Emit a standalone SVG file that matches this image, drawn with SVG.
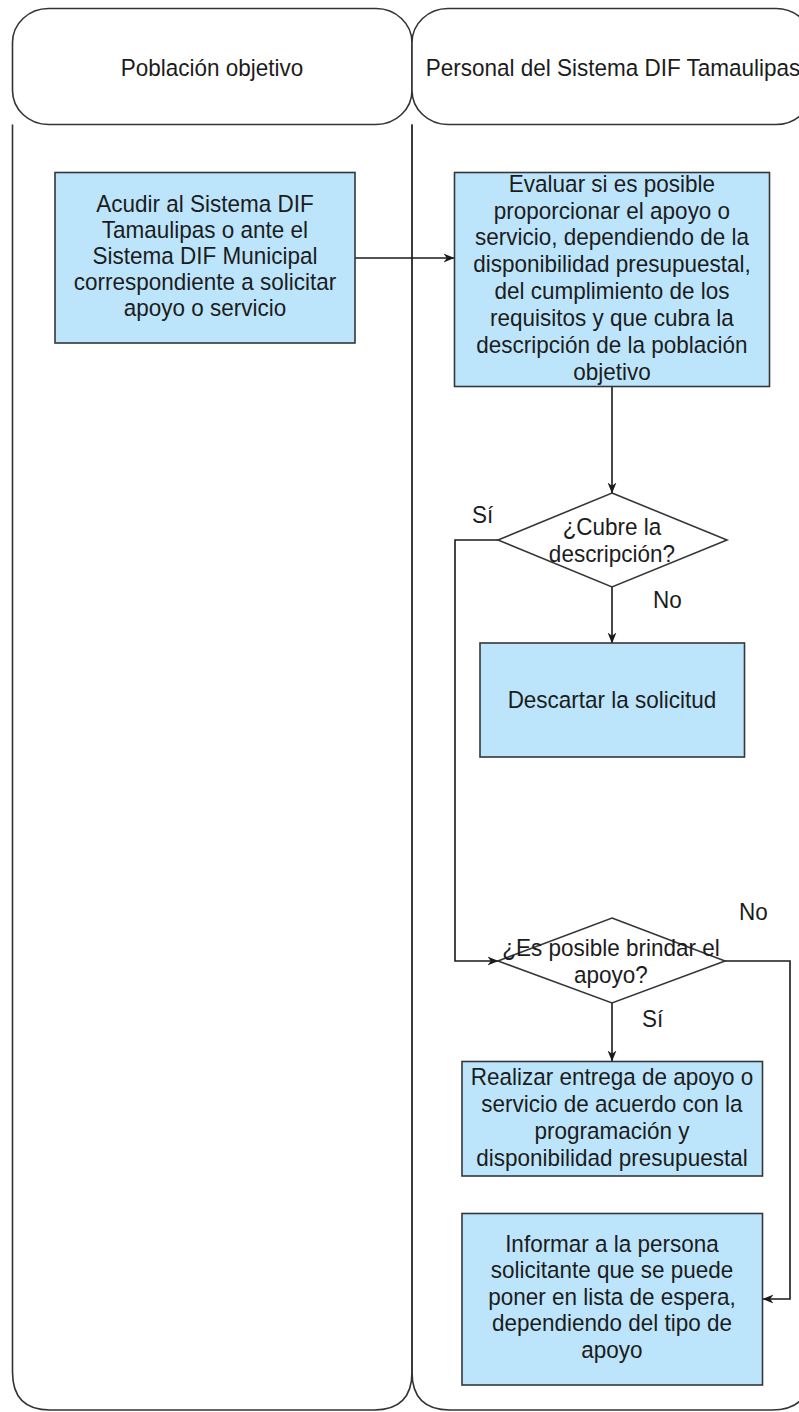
<svg xmlns="http://www.w3.org/2000/svg" width="799" height="1412" viewBox="0 0 799 1412">
  <style>
    .lane { fill: none; stroke: #333333; stroke-width: 1.6; }
    .hdr { fill: #ffffff; stroke: #333333; stroke-width: 1.6; }
    .box { fill: #bce5fb; stroke: #33363a; stroke-width: 1.6; }
    .dia { fill: #ffffff; stroke: #33363a; stroke-width: 1.6; }
    .t { font-family: "Liberation Sans", Arial, sans-serif; font-size: 22.5px; fill: #1c1c1c; text-anchor: middle; }
    .lbl { font-family: "Liberation Sans", Arial, sans-serif; font-size: 22.5px; fill: #1c1c1c; }
    .edge { fill: none; stroke: #1a1a1a; stroke-width: 1.6; marker-end: url(#arr); }
  </style>
  <defs>
    <marker id="arr" viewBox="0 0 10 10" refX="9.5" refY="5" markerWidth="11" markerHeight="11" markerUnits="userSpaceOnUse" orient="auto">
      <path d="M0,1 L10,5 L0,9 L3,5 Z" fill="#1a1a1a"/>
    </marker>
  </defs>
  <rect width="799" height="1412" fill="#ffffff"/>

  <g id="lane-poblacion">
    <path class="lane" d="M12.5,124.5 V1372 Q12.5,1410 50,1410 H374 Q412,1410 412,1372 V124.5"/>
    <rect class="hdr" x="12.5" y="8.5" width="399.5" height="116" rx="36" ry="34"/>
    <g transform="scale(1,1.06)">
      <text class="t" x="212" y="71.7">Población objetivo</text>
    </g>
  </g>

  <g id="lane-personal">
    <path class="lane" d="M412,124.5 V1372 Q412,1410 450,1410 H772 Q810,1410 810,1372 V124.5"/>
    <rect class="hdr" x="412" y="8.5" width="400" height="116" rx="36" ry="34"/>
    <g transform="scale(1,1.06)">
      <text class="t" x="613" y="71.7">Personal del Sistema DIF Tamaulipas</text>
    </g>
  </g>

  <g id="connectors">
    <path class="edge" d="M355,258 H454"/>
    <path class="edge" d="M612,387 V493"/>
    <path class="edge" d="M612,587 V643"/>
    <path class="edge" d="M498,540 H455 V961 H498"/>
    <path class="edge" d="M612,1003 V1061"/>
    <path class="edge" d="M725,961 H790 V1299 H763"/>
  </g>

  <g id="node-acudir">
    <rect class="box" x="55" y="172.5" width="300" height="170.5"/>
    <g transform="scale(1,1.06)">
      <text class="t" x="205" y="200">Acudir al Sistema DIF</text>
      <text class="t" x="205" y="224.53">Tamaulipas o ante el</text>
      <text class="t" x="205" y="249.06">Sistema DIF Municipal</text>
      <text class="t" x="205" y="273.58">correspondiente a solicitar</text>
      <text class="t" x="205" y="298.11">apoyo o servicio</text>
    </g>
  </g>

  <g id="node-evaluar">
    <rect class="box" x="454.5" y="172.5" width="315" height="214"/>
    <g transform="scale(1,1.06)">
      <text class="t" x="612" y="181.13">Evaluar si es posible</text>
      <text class="t" x="612" y="206.6">proporcionar el apoyo o</text>
      <text class="t" x="612" y="231.6">servicio, dependiendo de la</text>
      <text class="t" x="612" y="256.6">disponibilidad presupuestal,</text>
      <text class="t" x="612" y="282.08">del cumplimiento de los</text>
      <text class="t" x="612" y="307.55">requisitos y que cubra la</text>
      <text class="t" x="612" y="333.02">descripción de la población</text>
      <text class="t" x="612" y="358.49">objetivo</text>
    </g>
  </g>

  <g id="node-cubre">
    <polygon class="dia" points="612,493 727,540 612,587 498,540"/>
    <g transform="scale(1,1.06)">
      <text class="t" x="612" y="504.72">¿Cubre la</text>
      <text class="t" x="612" y="530.19">descripción?</text>
    </g>
  </g>

  <g id="labels-cubre" transform="scale(1,1.06)">
    <text class="lbl" x="472" y="493.4">Sí</text>
    <text class="lbl" x="653" y="573.58">No</text>
  </g>

  <g id="node-descartar">
    <rect class="box" x="480" y="643" width="264.5" height="114"/>
    <g transform="scale(1,1.06)">
      <text class="t" x="612" y="667.92">Descartar la solicitud</text>
    </g>
  </g>

  <g id="node-posible">
    <polygon class="dia" points="612,918 725,961 612,1003 498,961"/>
    <g transform="scale(1,1.06)">
      <text class="t" x="611" y="902.36">¿Es posible brindar el</text>
      <text class="t" x="611" y="927.36">apoyo?</text>
    </g>
  </g>

  <g id="labels-posible" transform="scale(1,1.06)">
    <text class="lbl" x="739" y="867.92">No</text>
    <text class="lbl" x="642" y="968.87">Sí</text>
  </g>

  <g id="node-realizar">
    <rect class="box" x="462" y="1061.5" width="300.5" height="114.5"/>
    <g transform="scale(1,1.06)">
      <text class="t" x="612" y="1023.58">Realizar entrega de apoyo o</text>
      <text class="t" x="612" y="1049.06">servicio de acuerdo con la</text>
      <text class="t" x="612" y="1074.53">programación y</text>
      <text class="t" x="612" y="1100">disponibilidad presupuestal</text>
    </g>
  </g>

  <g id="node-informar">
    <rect class="box" x="462" y="1213.5" width="300.5" height="171.5"/>
    <g transform="scale(1,1.06)">
      <text class="t" x="612" y="1181.13">Informar a la persona</text>
      <text class="t" x="612" y="1206.13">solicitante que se puede</text>
      <text class="t" x="612" y="1231.13">poner en lista de espera,</text>
      <text class="t" x="612" y="1256.13">dependiendo del tipo de</text>
      <text class="t" x="612" y="1281.13">apoyo</text>
    </g>
  </g>
</svg>
